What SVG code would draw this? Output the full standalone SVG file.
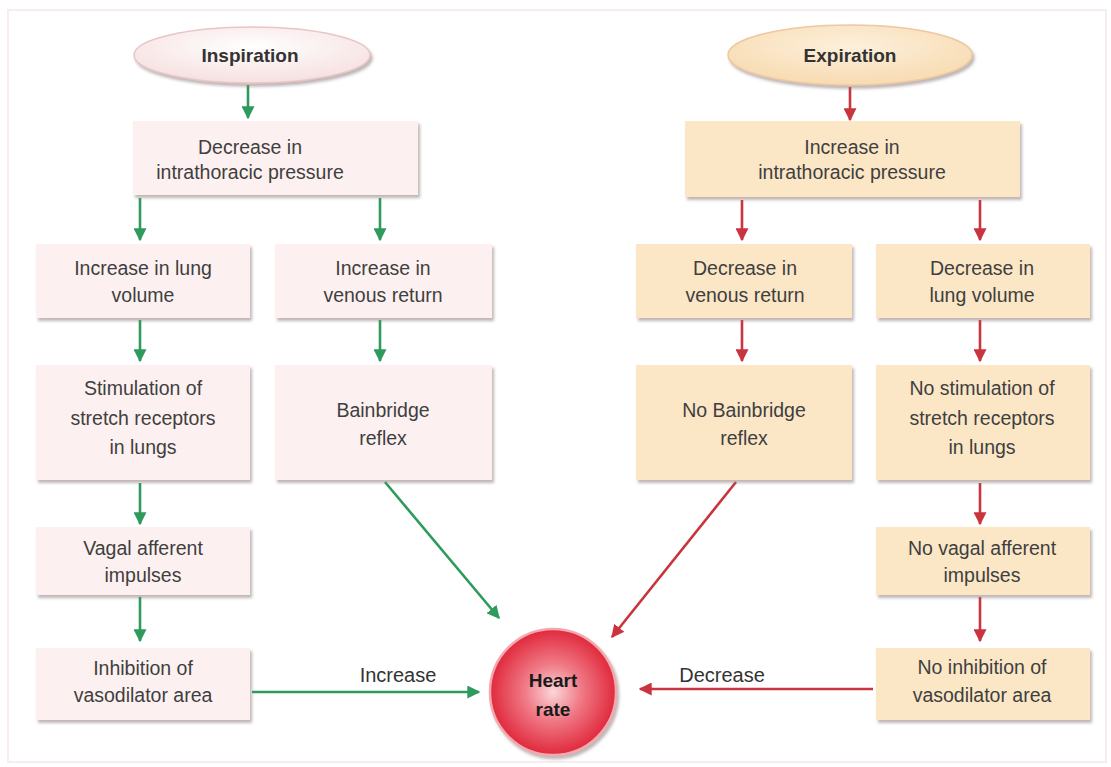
<svg xmlns="http://www.w3.org/2000/svg" width="1111" height="767" viewBox="0 0 1111 767">
<defs>
<style>
.t{font-family:"Liberation Sans",Arial,sans-serif;font-size:19.5px;fill:#3f3f3f;text-anchor:middle}
.h{font-family:"Liberation Sans",Arial,sans-serif;font-size:19px;font-weight:bold;fill:#333;text-anchor:middle}
.lb{font-family:"Liberation Sans",Arial,sans-serif;font-size:20px;fill:#333;text-anchor:middle}
.bp{fill:#fdf0f0}
.bo{fill:#fbe6c6}
.g{stroke:#2e9a5c;stroke-width:2.6;fill:none;marker-end:url(#ag)}
.r{stroke:#c9343e;stroke-width:2.6;fill:none;marker-end:url(#ar)}
</style>
<filter id="sh" x="-5%" y="-5%" width="112%" height="120%">
<feDropShadow dx="2" dy="3" stdDeviation="1.5" flood-color="#8a7a7a" flood-opacity="0.55"/>
</filter>
<marker id="ag" viewBox="0 0 10 10" refX="9" refY="5" markerWidth="5" markerHeight="5" orient="auto" markerUnits="strokeWidth">
<path d="M0,0 L10,5 L0,10 z" fill="#2e9a5c"/>
</marker>
<marker id="ar" viewBox="0 0 10 10" refX="9" refY="5" markerWidth="5" markerHeight="5" orient="auto" markerUnits="strokeWidth">
<path d="M0,0 L10,5 L0,10 z" fill="#c9343e"/>
</marker>
<radialGradient id="hg" cx="50%" cy="50%" r="50%">
<stop offset="0" stop-color="#fbd6da"/>
<stop offset="0.45" stop-color="#f07a86"/>
<stop offset="1" stop-color="#e0293c"/>
</radialGradient>
<radialGradient id="eg1" cx="50%" cy="35%" r="60%">
<stop offset="0" stop-color="#ffffff"/>
<stop offset="1" stop-color="#f7e2e2"/>
</radialGradient>
<radialGradient id="eg2" cx="50%" cy="35%" r="60%">
<stop offset="0" stop-color="#fdf0dc"/>
<stop offset="1" stop-color="#f8dcb4"/>
</radialGradient>
</defs>
<rect x="0" y="0" width="1111" height="767" fill="#ffffff"/>
<rect x="8" y="10" width="1098" height="752" fill="none" stroke="#f8ecef" stroke-width="2"/>

<g id="connectors">
<line class="g" x1="248" y1="85" x2="248" y2="118"/>
<line class="g" x1="140" y1="198" x2="140" y2="240"/>
<line class="g" x1="380" y1="198" x2="380" y2="240"/>
<line class="g" x1="140" y1="320" x2="140" y2="361"/>
<line class="g" x1="380" y1="320" x2="380" y2="361"/>
<line class="g" x1="140" y1="483" x2="140" y2="524"/>
<line class="g" x1="140" y1="597" x2="140" y2="641"/>
<line class="g" x1="385" y1="482" x2="499" y2="618"/>
<line class="g" x1="252" y1="692" x2="479" y2="692"/>
<line class="r" x1="850" y1="87" x2="850" y2="120"/>
<line class="r" x1="742" y1="200" x2="742" y2="240"/>
<line class="r" x1="980" y1="200" x2="980" y2="240"/>
<line class="r" x1="742" y1="320" x2="742" y2="361"/>
<line class="r" x1="980" y1="320" x2="980" y2="361"/>
<line class="r" x1="736" y1="482" x2="612" y2="637"/>
<line class="r" x1="980" y1="483" x2="980" y2="524"/>
<line class="r" x1="980" y1="597" x2="980" y2="641"/>
<line class="r" x1="873" y1="689" x2="640" y2="689"/>
<text class="lb" x="398" y="682">Increase</text>
<text class="lb" x="722" y="682">Decrease</text>
</g>

<g id="inspiration">
<ellipse cx="252" cy="55" rx="118" ry="28" fill="url(#eg1)" stroke="#e8c6c6" stroke-width="1.5" filter="url(#sh)"/>
<text class="h" x="250" y="62">Inspiration</text>
</g>
<g id="expiration">
<ellipse cx="850" cy="55" rx="122" ry="30" fill="url(#eg2)" stroke="#ecc9a0" stroke-width="1.5" filter="url(#sh)"/>
<text class="h" x="850" y="62">Expiration</text>
</g>

<g id="dec-intrathoracic">
<rect class="bp" x="133" y="121" width="285" height="74" filter="url(#sh)"/>
<text class="t" x="250" y="154">Decrease in</text>
<text class="t" x="250" y="179">intrathoracic pressure</text>
</g>
<g id="inc-intrathoracic">
<rect class="bo" x="685" y="121" width="335" height="76" filter="url(#sh)"/>
<text class="t" x="852" y="154">Increase in</text>
<text class="t" x="852" y="179">intrathoracic pressure</text>
</g>

<g id="inc-lung-volume">
<rect class="bp" x="36" y="244" width="214" height="74" filter="url(#sh)"/>
<text class="t" x="143" y="275">Increase in lung</text>
<text class="t" x="143" y="302">volume</text>
</g>
<g id="inc-venous-return">
<rect class="bp" x="275" y="244" width="217" height="74" filter="url(#sh)"/>
<text class="t" x="383" y="275">Increase in</text>
<text class="t" x="383" y="302">venous return</text>
</g>
<g id="dec-venous-return">
<rect class="bo" x="636" y="244" width="216" height="74" filter="url(#sh)"/>
<text class="t" x="745" y="275">Decrease in</text>
<text class="t" x="745" y="302">venous return</text>
</g>
<g id="dec-lung-volume">
<rect class="bo" x="876" y="244" width="214" height="74" filter="url(#sh)"/>
<text class="t" x="982" y="275">Decrease in</text>
<text class="t" x="982" y="302">lung volume</text>
</g>

<g id="stim-stretch">
<rect class="bp" x="36" y="365" width="214" height="115" filter="url(#sh)"/>
<text class="t" x="143" y="395">Stimulation of</text>
<text class="t" x="143" y="425">stretch receptors</text>
<text class="t" x="143" y="454">in lungs</text>
</g>
<g id="bainbridge">
<rect class="bp" x="275" y="365" width="217" height="115" filter="url(#sh)"/>
<text class="t" x="383" y="417">Bainbridge</text>
<text class="t" x="383" y="445">reflex</text>
</g>
<g id="no-bainbridge">
<rect class="bo" x="636" y="365" width="216" height="115" filter="url(#sh)"/>
<text class="t" x="744" y="417">No Bainbridge</text>
<text class="t" x="744" y="445">reflex</text>
</g>
<g id="no-stim-stretch">
<rect class="bo" x="876" y="365" width="214" height="115" filter="url(#sh)"/>
<text class="t" x="982" y="395">No stimulation of</text>
<text class="t" x="982" y="425">stretch receptors</text>
<text class="t" x="982" y="454">in lungs</text>
</g>

<g id="vagal">
<rect class="bp" x="36" y="527" width="214" height="68" filter="url(#sh)"/>
<text class="t" x="143" y="555">Vagal afferent</text>
<text class="t" x="143" y="582">impulses</text>
</g>
<g id="no-vagal">
<rect class="bo" x="876" y="527" width="214" height="68" filter="url(#sh)"/>
<text class="t" x="982" y="555">No vagal afferent</text>
<text class="t" x="982" y="582">impulses</text>
</g>

<g id="inhibition">
<rect class="bp" x="36" y="648" width="214" height="72" filter="url(#sh)"/>
<text class="t" x="143" y="675">Inhibition of</text>
<text class="t" x="143" y="702">vasodilator area</text>
</g>
<g id="no-inhibition">
<rect class="bo" x="876" y="648" width="214" height="72" filter="url(#sh)"/>
<text class="t" x="982" y="674">No inhibition of</text>
<text class="t" x="982" y="702">vasodilator area</text>
</g>

<g id="heart-rate">
<circle cx="553" cy="692" r="63" fill="url(#hg)" stroke="#f3a8b0" stroke-width="2.5" filter="url(#sh)"/>
<text class="h" x="553" y="687" style="fill:#1a1a1a;font-size:19px">Heart</text>
<text class="h" x="553" y="716" style="fill:#1a1a1a;font-size:19px">rate</text>
</g>
</svg>
